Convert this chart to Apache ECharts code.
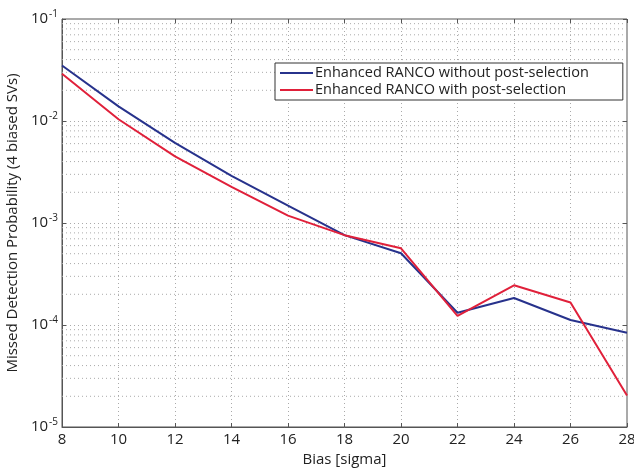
<!DOCTYPE html>
<html>
<head>
<meta charset="utf-8">
<script src="https://cdn.jsdelivr.net/npm/echarts@6/dist/echarts.min.js"></script>
<style>
  html, body { margin:0; padding:0; background:#fff; }
  #chart { width:634px; height:468px; }
</style>
</head>
<body>
<div id="chart"></div>
<script>
// bias values (x axis)
const bias = [8, 10, 12, 14, 16, 18, 20, 22, 24, 26, 28]
// missed detection probability
const withoutPostSel = [0.035, 0.0139, 0.0061, 0.0029, 0.00148, 0.00076, 0.000505, 0.000132, 0.000184, 0.000112, 0.000084]
const withPostSel    = [0.029, 0.0104, 0.0045, 0.00226, 0.00118, 0.00076, 0.000565, 0.000123, 0.000245, 0.000166, 0.0000204]

const seriesNames = ['Enhanced RANCO without post-selection', 'Enhanced RANCO with post-selection']
const decades = [1e-5, 1e-4, 1e-3, 1e-2]
const minorSteps = [2, 3, 4, 5, 6, 7, 8, 9]

const font = '"Open Sans", "Noto Sans", sans-serif'
const gridDot = { color: '#aaa', type: [1, 3], width: 1 }

// minor log grid lines (2..9 x 10^k), one flat line each
const minorSeries = []
decades.forEach(d => minorSteps.forEach(m => {
  const v = m * d
  minorSeries.push({
    type: 'line', silent: true, symbol: 'none', showSymbol: false, z: 1,
    lineStyle: gridDot, data: [[bias[0], v], [bias[bias.length - 1], v]],
    tooltip: { show: false }
  })
}))

const chart = echarts.init(document.getElementById('chart'))

chart.setOption({
  animation: false,
  textStyle: { fontFamily: font },
  grid: {
    left: 62, right: 7, top: 19, bottom: 41, outerBoundsMode: 'none',
    show: true, borderColor: '#555', borderWidth: 1
  },
  legend: {
    left: 275, top: 63, orient: 'vertical',
    backgroundColor: '#fff', borderColor: '#333', borderWidth: 1,
    padding: [2, 34, 2, 5], itemGap: 1,
    icon: 'rect', itemWidth: 33, itemHeight: 2,
    textStyle: { fontSize: 14.5, lineHeight: 16, color: '#222', fontFamily: font, padding: [0, 0, 0, -3] },
    data: seriesNames
  },
  xAxis: [{
    type: 'value', min: 8, max: 28, interval: 2,
    name: 'Bias [sigma]', nameLocation: 'middle', nameGap: 25,
    nameTextStyle: { fontSize: 15, color: '#222' },
    axisLine: { lineStyle: { color: '#555' } },
    axisTick: { inside: true, length: 4, lineStyle: { color: '#555' } },
    axisLabel: { fontSize: 15, color: '#222', margin: 5 },
    splitLine: { show: true, lineStyle: gridDot }
  }, {
    type: 'value', min: 8, max: 28, interval: 2, position: 'top',
    axisLine: { show: false },
    axisTick: { inside: true, length: 4, lineStyle: { color: '#555' } },
    axisLabel: { show: false }, splitLine: { show: false }
  }],
  yAxis: [{
    type: 'log', logBase: 10, min: 1e-5, max: 1e-1,
    name: 'Missed Detection Probability (4 biased SVs)',
    nameLocation: 'middle', nameGap: 41,
    nameTextStyle: { fontSize: 15, color: '#222' },
    axisLine: { lineStyle: { color: '#555' } },
    axisTick: { inside: true, length: 4, lineStyle: { color: '#555' } },
    axisLabel: {
      margin: 4, color: '#222', fontSize: 15,
      formatter: v => '10{sup|' + Math.round(Math.log10(v)) + '}',
      rich: { sup: { fontSize: 10, verticalAlign: 'top', padding: [0, 0, 10, 1], color: '#222' } }
    },
    splitLine: { show: true, lineStyle: gridDot }
  }, {
    type: 'log', logBase: 10, min: 1e-5, max: 1e-1, position: 'right',
    axisLine: { show: false },
    axisTick: { inside: true, length: 4, lineStyle: { color: '#555' } },
    axisLabel: { show: false }, splitLine: { show: false }
  }],
  series: minorSeries.concat([
    {
      name: seriesNames[0], type: 'line', showSymbol: false, symbol: 'none',
      lineStyle: { color: '#27328c', width: 2 }, itemStyle: { color: '#27328c' },
      data: bias.map((b, i) => [b, withoutPostSel[i]]),
      z: 3
    },
    {
      name: seriesNames[1], type: 'line', showSymbol: false, symbol: 'none',
      lineStyle: { color: '#e0203a', width: 2 }, itemStyle: { color: '#e0203a' },
      data: bias.map((b, i) => [b, withPostSel[i]]),
      z: 4
    }
  ])
})
</script>
</body>
</html>
